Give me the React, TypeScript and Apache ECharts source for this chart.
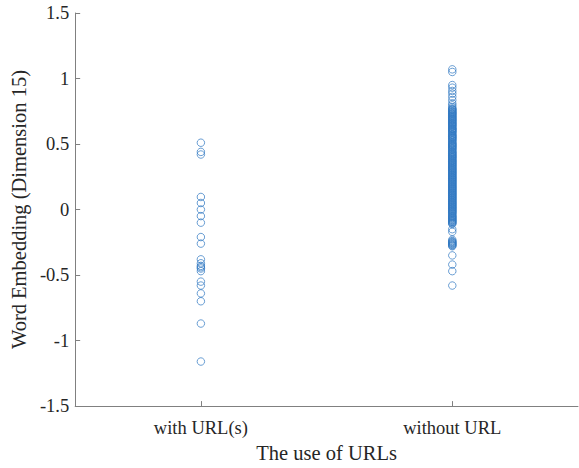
import React, { useEffect, useRef } from "react";
import * as echarts from "echarts";

const categories = ["with URL(s)", "without URL"];

const withUrl = [
  0.51, 0.44, 0.42, 0.096, 0.05, 0.0, -0.05, -0.1, -0.21, -0.26, -0.38, -0.41,
  -0.43, -0.44, -0.45, -0.47, -0.55, -0.58, -0.64, -0.7, -0.87, -1.16,
];

const withoutUrl = [
  1.07, 1.05, 0.95, 0.93, 0.905, 0.885, 0.86, 0.835, 0.81, 0.795, 0.78, 0.77,
  0.765, 0.755, 0.75, 0.74, 0.735, 0.73, 0.72, 0.715, 0.705, 0.7, 0.69, 0.685,
  0.68, 0.67, 0.66, 0.655, 0.645, 0.64, 0.63, 0.62, 0.615, 0.61, 0.6, 0.595,
  0.585, 0.575, 0.57, 0.56, 0.555, 0.55, 0.54, 0.535, 0.525, 0.515, 0.51, 0.5,
  0.49, 0.485, 0.48, 0.47, 0.465, 0.455, 0.445, 0.44, 0.43, 0.425, 0.42, 0.41,
  0.405, 0.4, 0.39, 0.385, 0.375, 0.37, 0.36, 0.355, 0.35, 0.34, 0.335, 0.33,
  0.325, 0.315, 0.31, 0.3, 0.295, 0.29, 0.28, 0.275, 0.27, 0.26, 0.255, 0.245,
  0.24, 0.23, 0.225, 0.22, 0.21, 0.205, 0.2, 0.19, 0.185, 0.175, 0.17, 0.16,
  0.155, 0.15, 0.14, 0.135, 0.125, 0.12, 0.11, 0.105, 0.1, 0.09, 0.085, 0.08,
  0.07, 0.065, 0.055, 0.05, 0.04, 0.035, 0.03, 0.02, 0.015, 0.01, 0.0, -0.005,
  -0.01, -0.02, -0.025, -0.03, -0.045, -0.05, -0.06, -0.065, -0.07, -0.08,
  -0.085, -0.09, -0.1, -0.105, -0.11, -0.15, -0.17, -0.23, -0.24, -0.245, -0.25,
  -0.26, -0.27, -0.28, -0.35, -0.42, -0.47, -0.58,
  0.762, 0.744, 0.726, 0.708, 0.692, 0.674, 0.662, 0.648, 0.633, 0.618, 0.603,
  0.588, 0.566, 0.546, 0.528, 0.503, 0.494, 0.476, 0.458, 0.436, 0.414, 0.396,
  0.378, 0.364, 0.344, 0.318, 0.304, 0.284, 0.264, 0.248, 0.234, 0.214, 0.194,
  0.178, 0.164, 0.144, 0.128, 0.114, 0.094, 0.074, 0.058, 0.044, 0.024, 0.006,
  -0.014, -0.036, -0.054, -0.076, -0.094, -0.255, -0.265, -0.275,
];

const yTicks = { min: -1.5, max: 1.5, interval: 0.5 };

const FONT = "Liberation Serif";

export default function App() {
  const ref = useRef<HTMLDivElement>(null);
  useEffect(() => {
    if (!ref.current) return;
    const chart = echarts.init(ref.current, null, { renderer: "svg" });
    const markerStyle = {
      color: "rgba(0,0,0,0)",
      borderColor: "#2f78c2",
      borderWidth: 0.9,
    };
    chart.setOption({
      animation: false,
      backgroundColor: "#ffffff",
      grid: { left: 72, top: 13, right: 1, bottom: 57 },
      xAxis: {
        type: "category",
        data: categories,
        boundaryGap: true,
        name: "The use of URLs",
        nameLocation: "middle",
        nameGap: 29,
        nameTextStyle: { fontFamily: FONT, fontSize: 20.5, color: "#262626" },
        axisLine: {
          show: true,
          onZero: false,
          lineStyle: { color: "#808080", width: 1 },
        },
        axisTick: {
          show: true,
          inside: true,
          length: 5,
          alignWithLabel: true,
          lineStyle: { color: "#808080" },
        },
        axisLabel: {
          fontFamily: FONT,
          fontSize: 18.5,
          color: "#262626",
          margin: 12,
        },
        splitLine: { show: false },
      },
      yAxis: {
        type: "value",
        min: yTicks.min,
        max: yTicks.max,
        interval: yTicks.interval,
        name: "Word Embedding (Dimension 15)",
        nameLocation: "middle",
        nameGap: 39,
        nameTextStyle: { fontFamily: FONT, fontSize: 20.5, color: "#262626" },
        axisLine: { show: true, lineStyle: { color: "#808080", width: 1 } },
        axisTick: {
          show: true,
          inside: true,
          length: 5,
          lineStyle: { color: "#808080" },
        },
        axisLabel: {
          fontFamily: FONT,
          fontSize: 18.5,
          color: "#262626",
          margin: 6,
        },
        splitLine: { show: false },
      },
      series: [
        {
          type: "scatter",
          symbol: "circle",
          symbolSize: 7.5,
          itemStyle: markerStyle,
          data: withUrl.map((v) => [categories[0], v]),
        },
        {
          type: "scatter",
          symbol: "circle",
          symbolSize: 7.5,
          itemStyle: markerStyle,
          data: withoutUrl.map((v) => [categories[1], v]),
        },
      ],
    });
    return () => chart.dispose();
  }, []);
  return (
    <div
      ref={ref}
      style={{ position: "fixed", left: 0, top: 0, width: 579, height: 468 }}
    />
  );
}
